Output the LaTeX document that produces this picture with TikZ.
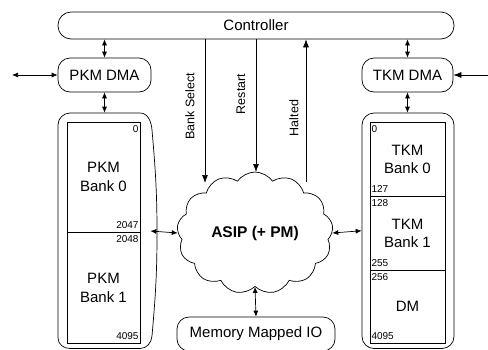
\documentclass[tikz,border=0pt]{standalone}
\usepackage{fontspec}
\setmainfont{Liberation Sans}
\usetikzlibrary{shapes.symbols,arrows.meta}
\begin{document}
\begin{tikzpicture}[x=1pt,y=-1pt,line width=0.7pt,
  box/.style={draw,rounded corners=12pt,inner sep=0pt,font=\fontsize{15}{17}\selectfont},
  bank/.style={align=center,font=\fontsize{15}{19}\selectfont,inner sep=0pt},
  num/.style={font=\fontsize{10}{11}\selectfont,inner xsep=1.5pt,inner ysep=3.5pt},
  vlbl/.style={rotate=90,font=\fontsize{12.5}{14}\selectfont,inner sep=0pt},
  tip/.style={-{Latex[length=8pt,width=6pt]}},
  dtip/.style={{Latex[length=6pt,width=5pt]}-{Latex[length=6pt,width=5pt]}}
]
\useasboundingbox (0,0) rectangle (488,349);
% controller
\node[box,rounded corners=13pt,minimum width=396pt,minimum height=27pt] (ctrl) at (256,25.5) {Controller};
% DMA blocks
\node[box,minimum width=93pt,minimum height=34pt] (pdma) at (104.5,75) {PKM DMA};
\node[box,minimum width=91pt,minimum height=34pt] (tdma) at (407.5,75) {TKM DMA};
% PKM memory outer (invisible anchor node + drawn outline)
\node[minimum width=99pt,minimum height=236pt,inner sep=0pt] (pkm) at (107.5,231) {};
\draw (58,338) -- (58,125) to[out=90,in=180] (70,113) -- (140,113)
  to[out=0,in=95] (152,130) to[out=-85,in=90] (157,233)
  to[out=-90,in=85] (152,336) to[out=-95,in=0] (140,348.5) -- (70,348.5)
  to[out=180,in=-90] (58,338);
\node[draw,minimum width=73pt,minimum height=110pt,inner sep=0pt] (pb0) at (103.5,177) {};
\node[draw,minimum width=73pt,minimum height=111pt,inner sep=0pt] (pb1) at (103.5,287.5) {};
\node[bank] at (pb0) {PKM\\Bank 0};
\node[bank] at (pb1) {PKM\\Bank 1};
\node[num,anchor=north east] at (pb0.north east) {0};
\node[num,anchor=south east] at (pb0.south east) {2047};
\node[num,anchor=north east] at (pb1.north east) {2048};
\node[num,anchor=south east] at (pb1.south east) {4095};
% TKM memory outer
\node[draw,rounded corners=12pt,minimum width=92pt,minimum height=235.5pt,inner sep=0pt] (tkm) at (408,230.75) {};
\node[draw,minimum width=75pt,minimum height=74pt,inner sep=0pt] (tb0) at (407.5,159) {};
\node[draw,minimum width=75pt,minimum height=74pt,inner sep=0pt] (tb1) at (407.5,233) {};
\node[draw,minimum width=75pt,minimum height=73pt,inner sep=0pt] (tdm) at (407.5,306.5) {};
\node[bank,font=\fontsize{15}{18}\selectfont] at (tb0) {TKM\\Bank 0};
\node[bank,font=\fontsize{15}{18}\selectfont] at (tb1) {TKM\\Bank 1};
\node[bank] at (tdm) {DM};
\node[num,anchor=north west] at (tb0.north west) {0};
\node[num,anchor=south west] at (tb0.south west) {127};
\node[num,anchor=north west] at (tb1.north west) {128};
\node[num,anchor=south west] at (tb1.south west) {255};
\node[num,anchor=north west] at (tdm.north west) {256};
\node[num,anchor=south west] at (tdm.south west) {4095};
% ASIP cloud
\node[draw,cloud,cloud puffs=13,cloud puff arc=110,aspect=1.3,minimum width=156pt,minimum height=122pt,inner sep=0pt,
  font=\bfseries\fontsize{15.5}{17}\selectfont] (asip) at (255,233) {ASIP (+ PM)};
% memory mapped IO
\node[box,minimum width=158pt,minimum height=34pt] (mmio) at (256,334) {Memory Mapped IO};
% external ends
\coordinate (pext) at (12,75);
\coordinate (text) at (488,75);
\coordinate (bs) at (205,183);
\coordinate (rs) at (256,172);
\coordinate (ht) at (306,182);
% connectors
\draw[dtip] (pext) -- (pdma.west);
\draw[tip] (text) -- (tdma.east);
\draw[dtip] (pdma.north |- ctrl.south) -- (pdma.north);
\draw[dtip] (tdma.north |- ctrl.south) -- (tdma.north);
\draw[dtip] (pdma.south) -- (pdma.south |- pkm.north);
\draw[dtip] (tdma.south) -- (tdma.south |- tkm.north);
\draw[tip] (bs |- ctrl.south) -- (bs);
\draw[tip] (rs |- ctrl.south) -- (rs);
\draw[tip] (ht) -- (ht |- ctrl.south);
\draw[dtip] ([xshift=-7pt]pkm.east) -- (asip.west);
\draw[dtip] (asip.east) -- (tkm.west);
\draw[dtip] (asip.south) -- (mmio.north);
% signal labels
\node[vlbl] (lbs) at (190,106) {Bank Select};
\node[vlbl] (lrs) at (241,94) {Restart};
\node[vlbl] (lht) at (294,118) {Halted};
\end{tikzpicture}
\end{document}
